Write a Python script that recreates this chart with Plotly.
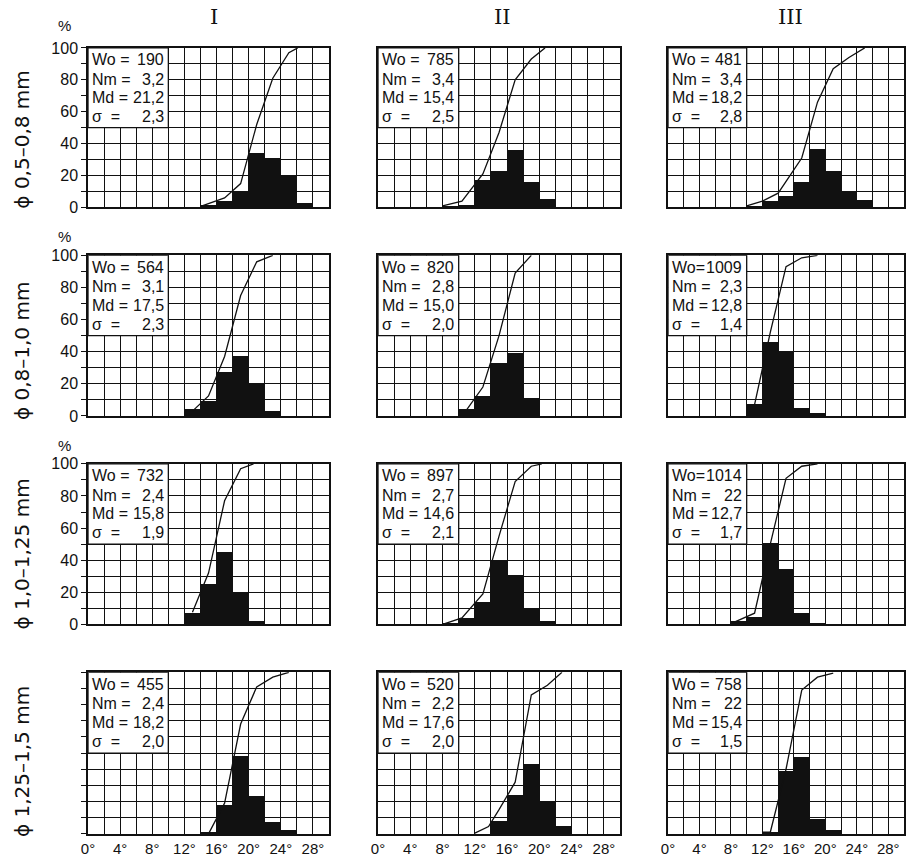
import plotly.graph_objects as go

# ---------------- data ----------------
COL_LABELS = ["I", "II", "III"]
ROW_LABELS = ["ϕ 0,5–0,8 mm", "ϕ 0,8–1,0 mm", "ϕ 1,0–1,25 mm", "ϕ 1,25–1,5 mm"]
STAT_NAMES = ["Wo =", "Nm =", "Md =", "σ  ="]
X_TICK_VALUES = [0, 4, 8, 12, 16, 20, 24, 28]
X_TICK_LABELS = ["0°", "4°", "8°", "12°", "16°", "20°", "24°", "28°"]
Y_TICK_VALUES = [0, 20, 40, 60, 80, 100]
Y_TICK_LABELS = ["0", "20", "40", "60", "80", "100"]

# Row 1: ϕ 0,5–0,8 mm
r1c1_x = [15, 17, 19, 21, 23, 25, 27]
r1c1_pct = [1.5, 4, 10, 34, 31, 20, 3]
r1c1_cum_x = [14.2, 17, 19, 21, 23, 25, 26.1]
r1c1_cum = [1, 6, 15, 52, 81, 97, 100]
r1c1_stats = ["190", "3,2", "21,2", "2,3"]

r1c2_x = [9, 11, 13, 15, 17, 19, 21]
r1c2_pct = [0.8, 1.5, 17, 23, 36, 16, 5.5]
r1c2_cum_x = [8, 10.4, 13, 15, 17, 19, 20.7]
r1c2_cum = [1, 4, 21, 47, 80, 93, 100]
r1c2_stats = ["785", "3,4", "15,4", "2,5"]

r1c3_x = [11, 13, 15, 17, 19, 21, 23, 25]
r1c3_pct = [1, 4, 7, 16, 37, 23, 10, 5]
r1c3_cum_x = [10, 12, 14, 17, 19, 21, 23, 25]
r1c3_cum = [1, 4, 9, 31, 66, 87, 94, 100]
r1c3_stats = ["481", "3,4", "18,2", "2,8"]

# Row 2: ϕ 0,8–1,0 mm
r2c1_x = [13, 15, 17, 19, 21, 23]
r2c1_pct = [4, 9, 27, 37, 20, 3]
r2c1_cum_x = [13, 15, 17, 19, 21, 23]
r2c1_cum = [3, 12.5, 37, 75, 96, 100]
r2c1_stats = ["564", "3,1", "17,5", "2,3"]

r2c2_x = [11, 13, 15, 17, 19]
r2c2_pct = [4, 12.5, 33, 39, 11]
r2c2_cum_x = [11, 13, 15, 17, 19]
r2c2_cum = [4, 18, 50, 89, 100]
r2c2_stats = ["820", "2,8", "15,0", "2,0"]

r2c3_x = [11, 13, 15, 17, 19]
r2c3_pct = [7, 46, 40, 5, 1.5]
r2c3_cum_x = [11, 13, 15, 17, 19]
r2c3_cum = [7, 52, 93, 98.5, 100]
r2c3_stats = ["1009", "2,3", "12,8", "1,4"]

# Row 3: ϕ 1,0–1,25 mm
r3c1_x = [13, 15, 17, 19, 21]
r3c1_pct = [7.5, 25, 45, 20, 2]
r3c1_cum_x = [13, 15, 17, 19, 20.6]
r3c1_cum = [7.5, 32, 77, 97, 100]
r3c1_stats = ["732", "2,4", "15,8", "1,9"]

r3c2_x = [9, 11, 13, 15, 17, 19, 21]
r3c2_pct = [0.6, 4, 14, 40, 31, 10, 2]
r3c2_cum_x = [8, 10.4, 13, 15, 17, 19, 20.3]
r3c2_cum = [0, 4, 19, 55, 89, 98.5, 100]
r3c2_stats = ["897", "2,7", "14,6", "2,1"]

r3c3_x = [9, 11, 13, 15, 17, 19]
r3c3_pct = [2, 5, 50.5, 34.5, 7, 0.5]
r3c3_cum_x = [8, 11, 13, 15, 17, 19]
r3c3_cum = [0.5, 7, 50, 91, 98.5, 100]
r3c3_stats = ["1014", "22", "12,7", "1,7"]

# Row 4: ϕ 1,25–1,5 mm
r4c1_x = [15, 17, 19, 21, 23, 25]
r4c1_pct = [1, 18, 48, 23, 7, 2]
r4c1_cum_x = [15, 17, 19, 21, 23, 25]
r4c1_cum = [0, 19, 68, 91, 97, 100]
r4c1_stats = ["455", "2,4", "18,2", "2,0"]

r4c2_x = [15, 17, 19, 21, 23]
r4c2_pct = [8, 24, 43, 20, 5]
r4c2_cum_x = [12, 13.7, 15, 17, 19, 21, 22.8]
r4c2_cum = [0.5, 4.5, 15, 32, 86, 92, 100]
r4c2_stats = ["520", "2,2", "17,6", "2,0"]

r4c3_x = [13, 15, 17, 19, 21]
r4c3_pct = [1, 39, 47.5, 9, 2]
r4c3_cum_x = [12, 13, 15, 17, 19, 21]
r4c3_cum = [1, 1, 40, 89, 97, 99.5]
r4c3_stats = ["758", "22", "15,4", "1,5"]

PANELS = [
    [(r1c1_x, r1c1_pct, r1c1_cum_x, r1c1_cum, r1c1_stats),
     (r1c2_x, r1c2_pct, r1c2_cum_x, r1c2_cum, r1c2_stats),
     (r1c3_x, r1c3_pct, r1c3_cum_x, r1c3_cum, r1c3_stats)],
    [(r2c1_x, r2c1_pct, r2c1_cum_x, r2c1_cum, r2c1_stats),
     (r2c2_x, r2c2_pct, r2c2_cum_x, r2c2_cum, r2c2_stats),
     (r2c3_x, r2c3_pct, r2c3_cum_x, r2c3_cum, r2c3_stats)],
    [(r3c1_x, r3c1_pct, r3c1_cum_x, r3c1_cum, r3c1_stats),
     (r3c2_x, r3c2_pct, r3c2_cum_x, r3c2_cum, r3c2_stats),
     (r3c3_x, r3c3_pct, r3c3_cum_x, r3c3_cum, r3c3_stats)],
    [(r4c1_x, r4c1_pct, r4c1_cum_x, r4c1_cum, r4c1_stats),
     (r4c2_x, r4c2_pct, r4c2_cum_x, r4c2_cum, r4c2_stats),
     (r4c3_x, r4c3_pct, r4c3_cum_x, r4c3_cum, r4c3_stats)],
]

# ---------------- layout geometry (target pixels in the picture) ----------------
W, H = 906, 857
COL_PX = [(86, 327), (376, 618), (666, 906)]
ROW_PX = [(48, 208), (256, 417), (465, 626), (674, 836)]
FONT = "Liberation Sans"
INK = "#111111"

# the captured page comes out slightly shrunk/offset; compensate
AX, BX = 0.99, 5.0
AY, BY = 0.978, 8.0


def sx(px):
    return (px - BX) / AX


def sy(py):
    return (py - BY) / AY


def dom_x(a, b):
    return [max(sx(a) / W, 0), min(sx(b) / W, 1)]


def dom_y(a, b):
    return [max(1 - sy(b) / H, 0), min(1 - sy(a) / H, 1)]


fig = go.Figure()
layout = {}
shapes = []
annotations = []

grid_x = list(range(0, 31, 2))
grid_y = list(range(0, 101, 10))

for r in range(4):
    for c in range(3):
        k = r * 3 + c + 1
        xs = "" if k == 1 else str(k)
        xname, yname = "x" + xs, "y" + xs
        bx, bp, cx, cy, stats = PANELS[r][c]

        fig.add_trace(go.Bar(x=bx, y=bp, width=2, xaxis=xname, yaxis=yname,
                             marker=dict(color=INK, line=dict(width=0)),
                             showlegend=False, hoverinfo="skip"))
        fig.add_trace(go.Scatter(x=cx, y=cy, mode="lines", xaxis=xname, yaxis=yname,
                                 line=dict(color=INK, width=1.3), showlegend=False,
                                 hoverinfo="skip", cliponaxis=False))

        x0, x1 = COL_PX[c]
        y0, y1 = ROW_PX[r]
        if r == 3:
            xtext = [X_TICK_LABELS[X_TICK_VALUES.index(v)] if v in X_TICK_VALUES else "" for v in grid_x]
        else:
            xtext = ["" for v in grid_x]
        layout["xaxis" + xs] = dict(
            domain=dom_x(x0, x1), range=[0, 30], anchor=yname,
            tickmode="array", tickvals=grid_x, ticktext=xtext,
            showticklabels=(r == 3), ticks="",
            showgrid=True, gridcolor=INK, gridwidth=1, zeroline=False,
            showline=True, linecolor=INK, linewidth=1.5, mirror=True,
            tickfont=dict(family=FONT, size=15, color=INK), fixedrange=True,
        )
        if c == 0:
            ytext = [Y_TICK_LABELS[Y_TICK_VALUES.index(v)] if (v in Y_TICK_VALUES and r < 3) else "" for v in grid_y]
            yticks = "outside"
        else:
            ytext = ["" for v in grid_y]
            yticks = ""
        layout["yaxis" + xs] = dict(
            domain=dom_y(y0, y1), range=[0, 100], anchor=xname,
            tickmode="array", tickvals=grid_y, ticktext=ytext,
            showticklabels=(c == 0), ticks=yticks, ticklen=5, tickcolor=INK,
            showgrid=True, gridcolor=INK, gridwidth=1, zeroline=False,
            showline=True, linecolor=INK, linewidth=1.5, mirror=True,
            tickfont=dict(family=FONT, size=16, color=INK), fixedrange=True,
        )

        # statistics box
        shapes.append(dict(type="rect", xref=xname, yref=yname, x0=0, x1=10, y0=50, y1=100,
                           fillcolor="white", line=dict(color=INK, width=1.3), layer="above"))
        for i, (name, val) in enumerate(zip(STAT_NAMES, stats)):
            yy = [92.5, 80.5, 69, 57][i]
            if i == 0 and len(val) >= 4:
                name = name.replace(" ", "")
            annotations.append(dict(x=0.3, y=yy, xref=xname, yref=yname, text=name,
                                    showarrow=False, xanchor="left", yanchor="middle",
                                    font=dict(family=FONT, size=16, color=INK)))
            annotations.append(dict(x=9.7, y=yy, xref=xname, yref=yname, text=val,
                                    showarrow=False, xanchor="right", yanchor="middle",
                                    font=dict(family=FONT, size=16, color=INK)))

# column headers
for c, (lab, px) in enumerate(zip(COL_LABELS, [212, 500, 788])):
    annotations.append(dict(x=sx(px) / W, y=1 - sy(17) / H, xref="paper", yref="paper", text=lab,
                            showarrow=False, xanchor="center", yanchor="middle",
                            font=dict(family="DejaVu Serif", size=21, color=INK)))

# row labels
for r, (lab, py) in enumerate(zip(ROW_LABELS, [140, 352, 556, 764])):
    annotations.append(dict(x=sx(20) / W, y=1 - sy(py) / H, xref="paper", yref="paper", text=lab,
                            showarrow=False, textangle=-90, xanchor="center", yanchor="middle",
                            font=dict(family="DejaVu Sans", size=20, color=INK)))

# percent signs
for py in [26, 237, 447]:
    annotations.append(dict(x=sx(62) / W, y=1 - sy(py) / H, xref="paper", yref="paper", text="%",
                            showarrow=False, xanchor="center", yanchor="middle",
                            font=dict(family=FONT, size=15, color=INK)))

fig.update_layout(
    width=W, height=H, margin=dict(l=0, r=0, t=0, b=0),
    paper_bgcolor="white", plot_bgcolor="white",
    bargap=0, shapes=shapes, annotations=annotations, **layout,
)

fig.write_html("out.html")
